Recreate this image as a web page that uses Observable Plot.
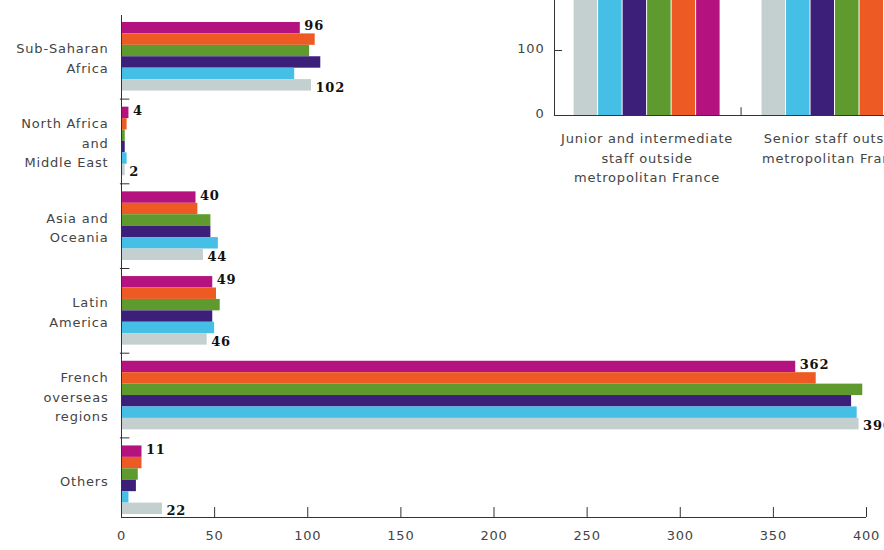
<!DOCTYPE html>
<html><head><meta charset="utf-8">
<script src="https://cdn.jsdelivr.net/npm/d3@7"></script>
<script src="https://cdn.jsdelivr.net/npm/@observablehq/plot@0.6"></script>
<style>
html,body{margin:0;padding:0;background:#fff;overflow:hidden}
#wrap{position:relative;width:884px;height:550px;overflow:hidden;background:#fff}
#main{position:absolute;left:0;top:0}
#inset{position:absolute;left:514px;top:0}
</style></head><body><div id="wrap"><div id="main"></div><div id="inset"></div></div>
<script>
// ---- data ----
const regions = ["Sub-Saharan\nAfrica", "North Africa\nand\nMiddle East", "Asia and\nOceania", "Latin\nAmerica", "French\noverseas\nregions", "Others"];
const seriesNames = ["S1", "S2", "S3", "S4", "S5", "S6"];
const seriesColors = ["#b3127f", "#ee5a24", "#5f9a2e", "#3b1f78", "#45bfe6", "#c4cfd0"];
const magenta = [96, 4, 40, 49, 362, 11];
const orange  = [104, 3, 41, 51, 373, 11];
const green   = [101, 2, 48, 53, 398, 9];
const purple  = [107, 2, 48, 49, 392, 8];
const cyan    = [93, 3, 52, 50, 395, 4];
const gray    = [102, 2, 44, 46, 396, 22];
const xTicks = [0, 50, 100, 150, 200, 250, 300, 350, 400];

// inset (tops of bars are cut off in the reference; values are estimates above the visible range)
const insetCategories = ["Junior and intermediate\nstaff outside\nmetropolitan France", "Senior staff outside\nmetropolitan France"];
const insetJunior = [600, 600, 600, 600, 600, 600];
const insetSenior = [300, 300, 300, 300, 300, 300];
const insetTicks = [0, 100];

// ---- layout helpers ----
const GAP = 1.41, PITCH = 6 + GAP;
const yTop = -0.61, yBottom = 43.31;
const seriesValues = [magenta, orange, green, purple, cyan, gray];
const data = regions.flatMap((r, gi) => seriesValues.map((vals, si) => ({gi, si, series: seriesNames[si], value: vals[gi]})));
const textStyle = {fontFamily: "DejaVu Sans", fontSize: "13px", color: "#444", background: "transparent", letterSpacing: "0.8px"};

const main = Plot.plot({
  width: 884, height: 550,
  marginLeft: 121, marginRight: 18, marginTop: 15, marginBottom: 33,
  x: {domain: [0, 400], ticks: xTicks, tickSize: 0, tickPadding: 13, tickFormat: d => String(d), label: null},
  y: {domain: [yBottom, yTop], axis: null},
  color: {domain: seriesNames, range: seriesColors},
  style: textStyle,
  marks: [
    Plot.rect(data, {x1: () => 0, x2: "value", y1: d => d.gi * PITCH + d.si, y2: d => d.gi * PITCH + d.si + 1, fill: "series"}),
    Plot.ruleX([0], {stroke: "#333"}),
    Plot.ruleY([yBottom], {x1: () => 0, x2: () => 400, stroke: "#333"}),
    Plot.ruleX(xTicks.filter(t => t > 0), {x: d => d, y1: () => yBottom, y2: () => yBottom - 0.87, stroke: "#333"}),
    Plot.ruleY(d3.range(1, regions.length), {y: gi => gi * PITCH - GAP / 2, x1: () => -0.6, x2: () => 4.5, stroke: "#333"}),
    Plot.text(regions, {x: () => 0, y: (r, i) => i * PITCH + 3, text: d => d, textAnchor: "end", lineAnchor: "middle", dx: -13, lineHeight: 1.5, fill: "#444"}),
    Plot.text(data.filter(d => d.si === 0), {x: "value", y: d => d.gi * PITCH + 0.5, text: d => String(d.value), dx: 4, dy: -2, textAnchor: "start", fontFamily: "DejaVu Serif", fontWeight: "bold", fontSize: 13, letterSpacing: 0, fill: "#111"}),
    Plot.text(data.filter(d => d.si === 5), {x: "value", y: d => d.gi * PITCH + 5.5, text: d => String(d.value), dx: 4, dy: 2, textAnchor: "start", fontFamily: "DejaVu Serif", fontWeight: "bold", fontSize: 13, fill: "#111"})
  ]
});
document.getElementById("main").appendChild(main);

// ---- inset ----
const IP = 7.67, xStart = -0.78;
const insetData = [insetJunior, insetSenior].flatMap((vals, gi) => vals.map((v, si) => ({gi, si, series: seriesNames[si], value: v})));
const inset = Plot.plot({
  width: 370, height: 200,
  marginLeft: 40, marginRight: 0, marginTop: 0, marginBottom: 85,
  x: {domain: [xStart, xStart + 330 / 24.5], axis: null},
  y: {domain: [0, 177], axis: null},
  color: {domain: seriesNames, range: seriesColors},
  style: {...textStyle, overflow: "hidden"},
  marks: [
    Plot.rect(insetData, {x1: d => d.gi * IP + (5 - d.si), x2: d => d.gi * IP + (5 - d.si) + 1, y1: () => 0, y2: "value", fill: "series", insetLeft: 0.5, insetRight: 0.5, clip: true}),
    Plot.ruleX([xStart], {stroke: "#333"}),
    Plot.ruleY([0], {stroke: "#333"}),
    Plot.ruleY(insetTicks.filter(t => t > 0), {y: d => d, x1: () => xStart, x2: () => xStart + 0.33, stroke: "#333"}),
    Plot.ruleX([IP - (IP - 6) / 2], {x: d => d, y1: () => 0, y2: () => 12, stroke: "#333"}),
    Plot.text(insetTicks, {x: () => xStart, y: d => d, text: d => String(d), textAnchor: "end", dx: -10, dy: -2, fill: "#444"}),
    Plot.text(insetCategories, {x: (c, i) => i * IP + 3, y: () => 0, text: d => d, lineAnchor: "top", dy: 14, lineHeight: 1.5, fill: "#444"})
  ]
});
document.getElementById("inset").appendChild(inset);
</script>
</body></html>
